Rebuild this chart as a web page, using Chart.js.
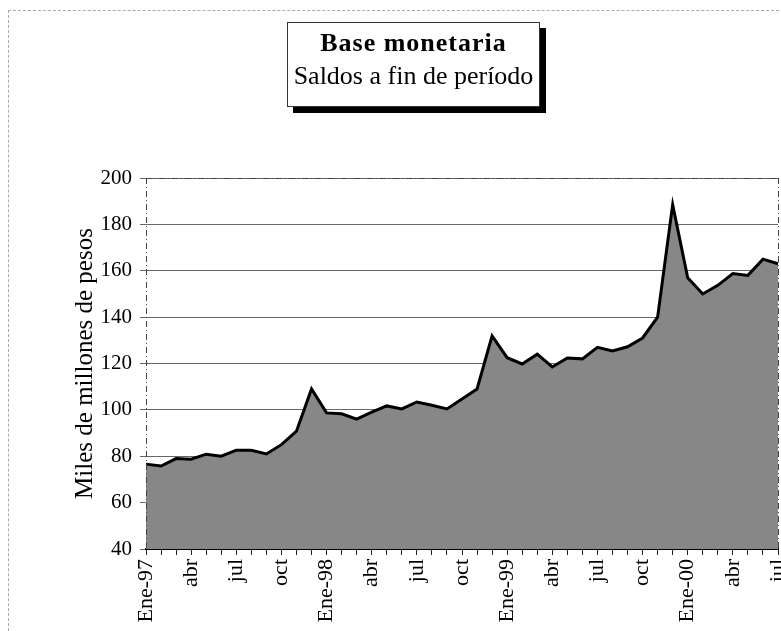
<!DOCTYPE html>
<html>
<head>
<meta charset="utf-8">
<script src="https://cdn.jsdelivr.net/npm/chart.js@4.4.1/dist/chart.umd.min.js"></script>
<style>
  html, body { margin: 0; padding: 0; background: #fff; }
  #wrap { position: relative; width: 781px; height: 631px; overflow: hidden; }
  #frame { position: absolute; left: 8px; top: 10px; width: 790px; height: 640px;
           border-top: 1px dashed #aaa; border-left: 1px dashed #aaa; }
  #titlebox { position: absolute; left: 287px; top: 22px; width: 251px; height: 83px;
              border: 1px solid #333; background: #fff; box-shadow: 6px 6px 0 #000;
              font-family: "Liberation Serif", "Times New Roman", serif; text-align: center; color: #000; }
  #titlebox .t1 { font-weight: bold; font-size: 26px; letter-spacing: 1px; margin-top: 3px; line-height: 33px; }
  #titlebox .t2 { font-size: 26px; line-height: 34px; white-space: nowrap; }
  canvas { position: absolute; left: 0; top: 0; }
</style>
</head>
<body>
<div id="wrap">
  <div id="frame"></div>
  <canvas id="c" width="781" height="631"></canvas>
  <div id="titlebox"><div class="t1">Base monetaria</div><div class="t2">Saldos a fin de período</div></div>
</div>
<script>
const titleLine1 = "Base monetaria";
const titleLine2 = "Saldos a fin de período";
const yAxisTitle = "Miles de millones de pesos";

const categories = [
  "Ene-97","feb","mar","abr","may","jun","jul","ago","sep","oct","nov","dic",
  "Ene-98","feb","mar","abr","may","jun","jul","ago","sep","oct","nov","dic",
  "Ene-99","feb","mar","abr","may","jun","jul","ago","sep","oct","nov","dic",
  "Ene-00","feb","mar","abr","may","jun","jul"
];
const shownTickIndexStep = 3;
const baseMonetaria = [
  76.6, 75.8, 79.0, 78.7, 80.9, 80.0, 82.6, 82.6, 81.0, 85.0, 90.8, 109.0,
  98.7, 98.3, 96.0, 99.0, 101.7, 100.4, 103.4, 102.0, 100.4, 104.7, 109.0, 131.9,
  122.5, 119.8, 124.0, 118.5, 122.4, 122.0, 127.0, 125.4, 127.2, 131.0, 140.0, 188.5,
  157.0, 150.0, 153.7, 158.8, 158.0, 165.0, 163.0
];
const yMin = 40, yMax = 200, yStep = 20;

const serif = "'Liberation Serif', 'Times New Roman', serif";

const frameBox = {
  id: 'frameBox',
  afterDraw(chart) {
    const a = chart.chartArea, ctx = chart.ctx;
    ctx.save();
    ctx.strokeStyle = '#444';
    ctx.lineWidth = 1;
    ctx.setLineDash([6, 3, 1, 3]);
    ctx.beginPath();
    ctx.moveTo(a.right + 0.5, a.top);
    ctx.lineTo(a.right + 0.5, a.bottom);
    ctx.moveTo(a.left, a.top + 0.5);
    ctx.lineTo(a.right, a.top + 0.5);
    ctx.moveTo(a.left + 0.5, a.top);
    ctx.lineTo(a.left + 0.5, a.bottom);
    ctx.stroke();
    ctx.restore();
  }
};

new Chart(document.getElementById('c'), {
  type: 'line',
  data: {
    labels: categories,
    datasets: [{
      data: baseMonetaria,
      fill: 'start',
      backgroundColor: '#878787',
      borderColor: '#000',
      borderWidth: 3,
      pointRadius: 0,
      tension: 0,
      borderJoinStyle: 'miter'
    }]
  },
  options: {
    responsive: false,
    animation: false,
    devicePixelRatio: 1,
    layout: { padding: { top: 178, right: 3, left: 70, bottom: 0 } },
    plugins: { legend: { display: false }, tooltip: { enabled: false } },
    scales: {
      x: {
        type: 'category',
        offset: false,
        grid: { display: true, drawOnChartArea: false, drawTicks: true, tickLength: 6, color: '#222' },
        border: { display: true, color: '#000', width: 2 },
        ticks: {
          autoSkip: false,
          maxRotation: 90, minRotation: 90,
          color: '#000',
          padding: 4,
          font: { family: serif, size: 22 },
          callback: function(v, i) { return i % shownTickIndexStep === 0 ? categories[i] : ''; }
        },
        afterFit(scale) { scale.height = 82; scale.paddingRight = 0; scale.paddingLeft = 0; }
      },
      y: {
        min: yMin, max: yMax,
        ticks: { stepSize: yStep, color: '#000', padding: 8, font: { family: serif, size: 21 } },
        grid: { color: '#666', lineWidth: 1, tickLength: 6 },
        border: { display: false },
        title: { display: true, text: yAxisTitle, color: '#000', font: { family: serif, size: 25 }, padding: { top: 0, bottom: 0 } },
        afterFit(scale) { scale.width = 76; scale.paddingTop = 0; scale.paddingBottom = 0; }
      }
    }
  },
  plugins: [frameBox]
});
</script>
</body>
</html>
